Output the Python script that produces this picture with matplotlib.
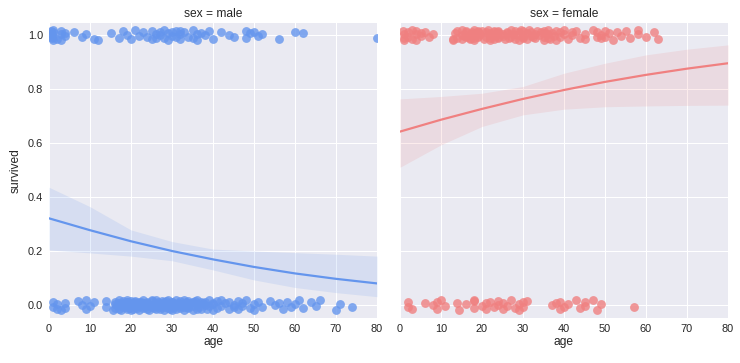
import matplotlib
matplotlib.use("Agg")
from matplotlib import pyplot as plt
import numpy as np

# ---- data ----
male_color = "#6495ED"
female_color = "#F08080"

# male, survived = 1
ms_age = [0.4, 0.7, 0.8, 0.9, 1, 1, 1, 2, 3, 3, 3, 4, 4, 6, 8, 9, 11, 12, 15, 17,
          18, 19, 20, 21, 22, 23, 24, 25, 25, 26, 26, 27, 27, 28, 28, 29, 29, 30, 30, 31,
          31, 32, 32, 32, 33, 34, 35, 35, 36, 36, 37, 38, 39, 40, 42, 44, 45, 48, 48, 49,
          50, 51, 52, 56, 60, 62, 80]
# male, survived = 0
md_age = [1, 1, 2, 2, 3, 4, 4, 7, 8, 9, 9, 10, 11, 14, 14,
          15.5, 16, 16, 16, 16.5, 17, 17, 17, 17.5, 18, 18, 18, 18, 18.5, 19, 19, 19, 19,
          19, 19.5, 20, 20, 20, 20, 20, 20.5, 21, 21, 21, 21, 21.5, 22, 22, 22, 22, 22,
          22.5, 23, 23, 23, 23.5, 24, 24, 24, 24, 24, 24.5, 25, 25, 25, 25, 25.5, 26, 26,
          26, 26, 26.5, 27, 27, 27, 27.5, 28, 28, 28, 28, 28, 28.5, 29, 29, 29, 29.5, 30,
          30, 30, 30, 30, 30.5, 31, 31, 31, 31.5, 32, 32, 32, 32.5, 33, 33, 33, 33.5, 34,
          34, 34, 34, 34.5, 35, 35, 35, 35.5, 36, 36, 36, 36.5, 37, 37, 37.5, 38, 38, 38.5,
          39, 39, 40, 40, 40, 41, 41, 42, 42, 43, 44, 44, 45, 45, 46, 46, 47, 47, 48, 49,
          50, 50, 51, 52, 54, 55, 56, 57, 58, 59, 60, 61, 62, 64, 65, 66, 70, 71, 74]
# female, survived = 1
fs_age = [0.8, 0.9, 1, 1, 2, 2, 3, 3, 4, 4, 4, 5, 5, 6, 7, 8,
          13, 13, 13.5, 14, 14, 15, 15, 15, 15.5, 16, 16, 16, 17, 17, 17, 17.5, 18, 18,
          18, 18, 18, 19, 19, 19, 19, 19.5, 20, 20.5, 21, 21, 21.5, 22, 22, 22, 22, 22,
          23, 23, 23, 23.5, 24, 24, 24, 24, 24, 25, 25, 25.5, 26, 26, 26.5, 27, 27, 27.5,
          28, 28, 28.5, 29, 29, 29.5, 30, 30, 30, 30, 31, 31, 31.5, 32, 32, 32.5, 33, 33,
          33.5, 34, 34.5, 35, 35, 35, 35, 36, 36, 36, 36.5, 37, 37.5, 38, 38, 39, 39, 40,
          40, 41, 42, 42, 43, 44, 45, 45, 47, 48, 48, 49, 49, 50, 50, 51, 52, 53, 54, 55,
          56, 58, 58, 60, 62, 63]
# female, survived = 0
fd_age = [2, 2, 3, 6, 8, 9, 9, 10, 11, 14, 14.5, 16, 18, 18, 18, 20, 21, 21, 22, 23,
          24, 24, 25, 25, 26, 27, 28, 29, 29, 30, 30, 31, 37, 38, 39, 39, 40, 41, 43, 44,
          45, 45, 47, 48, 49, 57]

# vertical jitter of each dot (y_jitter = .02)
jitter = [0.015, -0.012, 0.004, -0.018, 0.009, -0.006, 0.019, -0.014, 0.002, 0.013,
          -0.019, 0.007, -0.004, 0.011, -0.009, 0.003, -0.016, -0.020, 0.008, -0.010,
          0.014, 0.001, -0.015, 0.017, -0.003, 0.010, -0.008, 0.016, -0.017, 0.005,
          -0.011, 0.012, -0.001, 0.018, -0.013, 0.006, -0.019, 0.009, -0.005, 0.015,
          -0.009, 0.002, 0.013, -0.016, 0.011, -0.007, 0.019, -0.012, 0.004, -0.018,
          0.008, -0.002, 0.014, -0.014, 0.010, 0.001, -0.006, 0.016, -0.011, 0.007,
          0.012, -0.004, 0.003, -0.017, 0.011, 0.006, -0.010, 0.018, -0.008, 0.005,
          -0.015, 0.013, -0.002, 0.009, -0.019, 0.017, -0.006, 0.001, 0.014, -0.012,
          0.007, -0.016, 0.019, -0.003, 0.010, -0.009, 0.004, -0.013, 0.016, -0.001,
          0.012, -0.018, 0.006, -0.007, 0.015, -0.011, 0.002, 0.018, -0.014, 0.008,
          -0.004, 0.013, -0.020, 0.011, -0.008, 0.003, 0.017, -0.015, 0.009, -0.002,
          0.014, -0.010, 0.005, -0.017, 0.019, -0.006, 0.010, -0.012, 0.001, 0.016,
          -0.009, 0.007, -0.018, 0.012, -0.003, 0.015, -0.013, 0.004, 0.018, -0.007,
          0.011, -0.016, 0.006, -0.001, 0.013, -0.014, 0.017, -0.005, 0.008, -0.019,
          0.003, 0.014, -0.011, 0.019, -0.002, 0.006, -0.016, 0.012, -0.008, 0.001,
          0.016, -0.013, 0.009, -0.004, 0.018, -0.010, 0.005, -0.018, 0.011, -0.006,
          0.015, -0.001, 0.007, -0.015, 0.013, -0.009, 0.002, 0.017, -0.012, 0.010,
          -0.003, 0.019, -0.017, 0.004, -0.007]

# logistic fit and 95% CI, read every 10 years
fit_age = [0, 10, 20, 30, 40, 50, 60, 70, 80]
male_fit = [0.321, 0.277, 0.236, 0.200, 0.169, 0.141, 0.117, 0.097, 0.080]
male_lo = [0.204, 0.193, 0.181, 0.164, 0.130, 0.093, 0.065, 0.046, 0.031]
male_hi = [0.436, 0.364, 0.278, 0.235, 0.207, 0.200, 0.194, 0.188, 0.181]
female_fit = [0.642, 0.686, 0.726, 0.763, 0.796, 0.826, 0.852, 0.875, 0.895]
female_lo = [0.510, 0.593, 0.661, 0.704, 0.725, 0.734, 0.737, 0.739, 0.740]
female_hi = [0.763, 0.772, 0.784, 0.809, 0.858, 0.895, 0.926, 0.947, 0.963]

# ---- figure ----
plt.rcParams['font.family'] = ['Liberation Sans', 'DejaVu Sans']
W, H = 740, 363
fig = plt.figure(figsize=(W / 72, H / 72), dpi=72)

def make_ax(x0, x1):
    ax = fig.add_axes([x0 / W, 1 - 318 / H, (x1 - x0) / W, (318 - 23) / H])
    ax.set_facecolor("#EAEAF2")
    for s in ax.spines.values():
        s.set_visible(False)
    ax.grid(True, color="white", linewidth=1)
    ax.set_axisbelow(True)
    ax.tick_params(length=0, labelsize=11, colors=".15", pad=6)
    ax.set_xlim(0, 80)
    ax.set_ylim(-0.048, 1.044)
    ax.set_xticks(range(0, 81, 10))
    ax.set_yticks([0.0, 0.2, 0.4, 0.6, 0.8, 1.0])
    return ax

panels = [
    (49, 377, "male", male_color, ms_age, md_age, male_fit, male_lo, male_hi),
    (400, 728, "female", female_color, fs_age, fd_age, female_fit, female_lo, female_hi),
]

for i, (x0, x1, name, col, surv, died, fit, lo, hi) in enumerate(panels):
    ax = make_ax(x0, x1)
    ys = [1 + j for j in jitter[:len(surv)]]
    yd = [0 + j for j in jitter[-len(died):]]
    ax.scatter(surv, ys, s=78, color=col, alpha=0.8, linewidths=0)
    ax.scatter(died, yd, s=78, color=col, alpha=0.8, linewidths=0)
    ax.fill_between(fit_age, lo, hi, color=col, alpha=0.15, linewidth=0)
    ax.plot(fit_age, fit, color=col, linewidth=2.2)
    ax.set_title("sex = " + name, fontsize=12, color=".15", pad=6)
    ax.set_xlabel("age", fontsize=12, color=".15", labelpad=2)
    if i == 0:
        ax.set_ylabel("survived", fontsize=12, color=".15", labelpad=6)
    else:
        ax.tick_params(labelleft=False)

plt.savefig("out.png", dpi=72)
